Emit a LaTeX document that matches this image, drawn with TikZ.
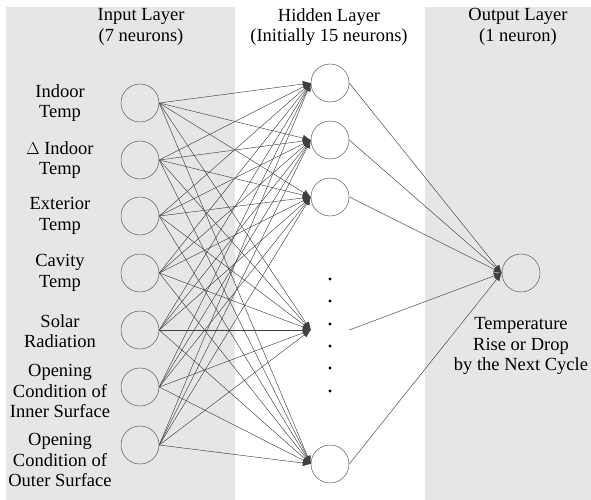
\documentclass[tikz,border=0pt]{standalone}
\usepackage{fontspec}
\setmainfont{Liberation Serif}
\usetikzlibrary{arrows.meta}

\definecolor{panelgray}{RGB}{230,230,230}

\tikzset{
  panel/.style={fill=panelgray},
  neuron/.style={circle, draw=black!65, line width=0.5pt, minimum size=38pt, inner sep=0pt},
  ghost/.style={circle, minimum size=38pt, inner sep=0pt},
  link/.style={draw=black!75, line width=0.45pt, -{Latex[length=8pt,width=6.5pt]}},
  txt/.style={align=center, inner sep=0pt, font=\fontsize{18.5}{20.5}\selectfont},
}

\begin{document}
\begin{tikzpicture}[x=1pt,y=-1pt]
    \useasboundingbox (0,0) rectangle (591,500);
    \begin{scope}
      \fill[panel] (6,7) rectangle (235,500);
      \fill[panel] (425,7) rectangle (591,500);

      \node[txt] (hin) at (141,27) {Input Layer\\(7 neurons)};
      \node[txt] (hhid) at (329,27) {Hidden Layer\\(Initially 15 neurons)};
      \node[txt] (hout) at (518,27) {Output Layer\\(1 neuron)};

      \foreach \y [count=\i] in {103,160,216,273,330,387,445}
        \node[neuron] (in\i) at (140,\y) {};

      \node[txt] (lin1) at (60,103) {Indoor\\Temp};
      \node[txt] (lin2) at (60,160) {$\Delta$ Indoor\\Temp};
      \node[txt] (lin3) at (60,216) {Exterior\\Temp};
      \node[txt] (lin4) at (60,273) {Cavity\\Temp};
      \node[txt] (lin5) at (60,331) {Solar\\Radiation};
      \node[txt] (lin6) at (60,391) {Opening\\Condition of\\Inner Surface};
      \node[txt] (lin7) at (60,460) {Opening\\Condition of\\Outer Surface};

      \node[neuron] (hid1) at (330,83) {};
      \node[neuron] (hid2) at (330,140) {};
      \node[neuron] (hid3) at (330,197) {};
      \node[ghost] (hid4) at (330,330) {};
      \node[neuron] (hid5) at (330,464) {};
      \foreach \y in {279,301,324,346,368,391}
        \fill (330,\y) circle (1.6);

      \node[neuron] (out) at (521,273) {};
      \node[txt] (lout) at (521,346) {Temperature\\Rise or Drop\\by the Next Cycle};

      \foreach \i in {1,...,7}
        \foreach \j in {1,...,5}
          \draw[link] (in\i.east) -- (hid\j.west);
      \foreach \j in {1,...,5}
        \draw[link] (hid\j.east) -- (out.west);
    \end{scope}
  \end{tikzpicture}
\end{document}
